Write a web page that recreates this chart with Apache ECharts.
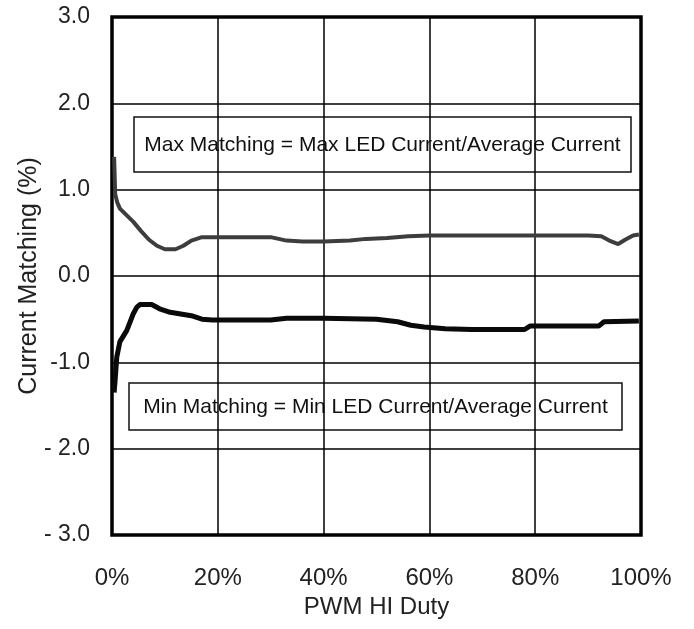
<!DOCTYPE html>
<html>
<head>
<meta charset="utf-8">
<script src="https://cdn.jsdelivr.net/npm/echarts@6/dist/echarts.min.js"></script>
<style>
  html, body { margin: 0; padding: 0; background: #fff; }
  #chart { width: 694px; height: 629px; }
</style>
</head>
<body>
<div id="chart"></div>
<script>
// PWM HI duty (%) / current matching (%)
const maxMatching = [
  [0.4, 1.38], [0.6, 0.95], [1.0, 0.85], [1.5, 0.78], [2.5, 0.72], [4, 0.63],
  [5.5, 0.52], [7, 0.42], [8.5, 0.35], [10, 0.31], [12, 0.31], [13.5, 0.35],
  [15, 0.41], [17, 0.45], [20, 0.45], [25, 0.45], [30, 0.45], [33, 0.41],
  [36, 0.4], [40, 0.4], [45, 0.41], [48, 0.43], [52, 0.44], [56, 0.46],
  [60, 0.47], [70, 0.47], [80, 0.47], [90, 0.47], [92.5, 0.46], [94, 0.41],
  [95.7, 0.37], [97, 0.42], [98.5, 0.47], [99.6, 0.48]
]
const minMatching = [
  [0.4, -1.35], [0.6, -1.2], [0.9, -0.94], [1.5, -0.76], [2.8, -0.63], [4, -0.44],
  [4.7, -0.36], [5.3, -0.33], [7.5, -0.33], [9, -0.38], [11, -0.42], [15, -0.46],
  [17, -0.5], [19, -0.51], [30, -0.51], [33, -0.49], [40, -0.49], [50, -0.5],
  [54, -0.53], [56.5, -0.57], [59, -0.59], [63, -0.61], [68, -0.62], [78, -0.62],
  [79, -0.58], [85, -0.58], [92, -0.58], [93, -0.53], [99.6, -0.52]
]
const yTickLabels = { '-3': '- 3.0', '-2': '- 2.0', '-1': '-1.0', '0': '0.0', '1': '1.0', '2': '2.0', '3': '3.0' }
const maxNote = 'Max Matching = Max LED Current/Average Current'
const minNote = 'Min Matching = Min LED Current/Average Current'

const font = '"Liberation Sans", Arial, sans-serif'
const chart = echarts.init(document.getElementById('chart'))

// 注释框
function noteBox(x, y, w, h, text) {
  return {
    type: 'group',
    x: x, y: y,
    z: 100,
    children: [
      { type: 'rect', shape: { x: 0, y: 0, width: w, height: h },
        style: { fill: '#fff', stroke: '#111', lineWidth: 1.5 } },
      { type: 'text', x: w / 2, y: h / 2 + 1,
        style: { text: text, fill: '#111', font: '21px ' + font, align: 'center', verticalAlign: 'middle' } }
    ]
  }
}

chart.setOption({
  animation: false,
  grid: { left: 112, right: 53, top: 17, bottom: 94, show: true, borderColor: '#000', borderWidth: 3.5 },
  xAxis: {
    type: 'value', min: 0, max: 100, interval: 20,
    name: 'PWM HI Duty', nameLocation: 'middle', nameGap: 58,
    nameTextStyle: { fontFamily: font, fontSize: 24, color: '#222' },
    axisLine: { show: false }, axisTick: { show: false },
    axisLabel: { formatter: '{value}%', margin: 31, fontFamily: font, fontSize: 24, color: '#222' },
    splitLine: { lineStyle: { color: '#000', width: 1.5 } }
  },
  yAxis: {
    type: 'value', min: -3, max: 3, interval: 1,
    name: 'Current Matching (%)', nameLocation: 'middle', nameGap: 70, nameRotate: 90,
    nameMoveOverlap: false,
    nameTextStyle: { fontFamily: font, fontSize: 25, color: '#222' },
    axisLine: { show: false }, axisTick: { show: false },
    axisLabel: { formatter: v => yTickLabels[String(v)], margin: 22, fontFamily: font, fontSize: 23, color: '#222' },
    splitLine: { lineStyle: { color: '#000', width: 1.5 } }
  },
  series: [
    { name: 'Max', type: 'line', data: maxMatching, showSymbol: false,
      lineStyle: { color: '#3d3d3d', width: 4 } },
    { name: 'Min', type: 'line', data: minMatching, showSymbol: false,
      lineStyle: { color: '#0a0a0a', width: 5 } }
  ],
  graphic: [
    noteBox(134, 117, 497, 55, maxNote),
    noteBox(129, 383, 493, 47, minNote)
  ]
})
</script>
</body>
</html>
